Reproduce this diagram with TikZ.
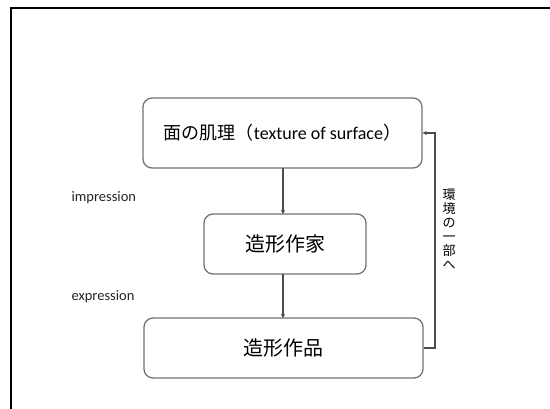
\documentclass[tikz,border=0pt]{standalone}
\usepackage{fontspec}
\setmainfont{Carlito}
\newfontfamily\cjk{Noto Sans CJK JP}
\usetikzlibrary{arrows.meta}
\begin{document}
\begin{tikzpicture}[x=1pt,y=-1pt,
  box/.style={draw=black!55, line width=1.3pt, rounded corners=9pt, fill=white, inner sep=0pt},
  conn/.style={draw=black!70, line width=1.1pt, -{Stealth[length=4pt,width=4pt]}},
  lbl/.style={font=\fontsize{14.5}{16}\selectfont, text=black!85}]
\useasboundingbox (0,0) rectangle (550,408);
\fill[white] (0,0) rectangle (550,408);
\draw[black, line width=2pt] (11,420) -- (11,8) -- (560,8);
\node[box, minimum width=279pt, minimum height=70pt] (top) at (282.5,133)
  {\fontsize{18}{20}\selectfont{\cjk 面の肌理（}texture of surface{\cjk ）}};
\node[box, minimum width=162pt, minimum height=60pt] (mid) at (285,244)
  {\cjk\fontsize{20}{22}\selectfont 造形作家};
\node[box, minimum width=279pt, minimum height=60pt] (bot) at (283.5,348)
  {\cjk\fontsize{20}{22}\selectfont 造形作品};
\coordinate (c1) at (283,168);
\coordinate (c2) at (283,214);
\coordinate (c3) at (283,274);
\coordinate (c4) at (283,318);
\draw[conn] (c1) -- (c2);
\draw[conn] (c3) -- (c4);
\coordinate (fb) at (435,348);
\draw[conn] (bot.east) -- (fb) |- (top.east);
\node[inner sep=0pt, align=center, font=\cjk\fontsize{13}{14}\selectfont] (env) at (449,229)
  {環\\境\\の\\一\\部\\へ};
\node[lbl, anchor=west] (imp) at (68,198) {impression};
\node[lbl, anchor=west] (exp) at (68,297) {expression};
\end{tikzpicture}
\end{document}
